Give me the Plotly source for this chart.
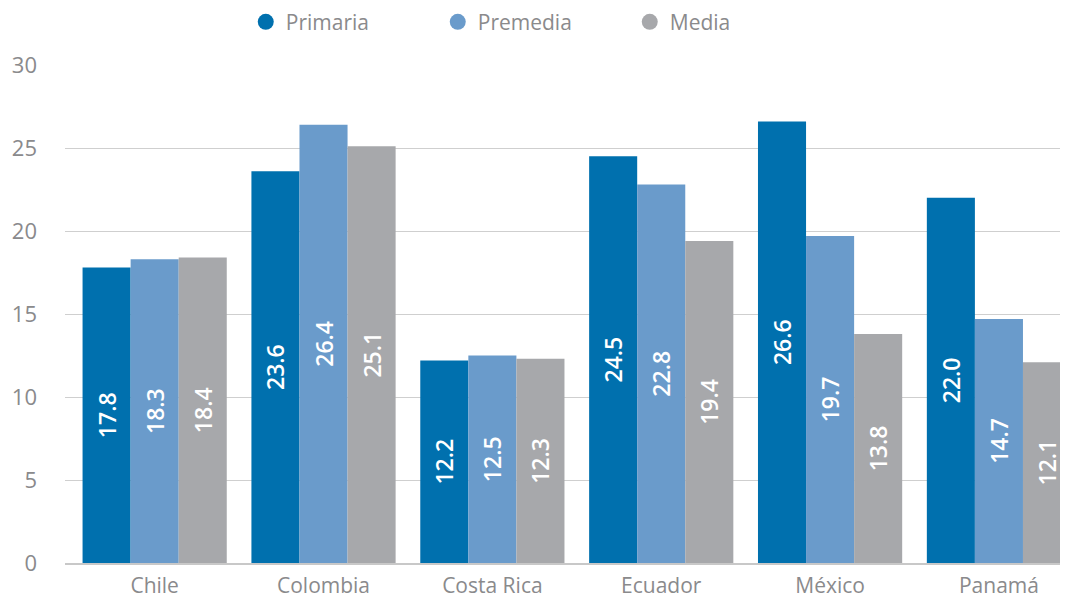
import plotly.graph_objects as go

categories = ["Chile", "Colombia", "Costa Rica", "Ecuador", "México", "Panamá"]
primaria = [17.8, 23.6, 12.2, 24.5, 26.6, 22.0]
premedia = [18.3, 26.4, 12.5, 22.8, 19.7, 14.7]
media = [18.4, 25.1, 12.3, 19.4, 13.8, 12.1]
series_names = ["Primaria", "Premedia", "Media"]
colors = ["#0070AE", "#6A9BCB", "#A7A8AB"]
y_ticks = [0, 5, 10, 15, 20, 25, 30]

FONT = "Open Sans"
GRAY = "#8a8a8c"

fig = go.Figure()
for name, vals, col in zip(series_names, [primaria, premedia, media], colors):
    fig.add_trace(go.Bar(
        x=categories, y=vals, name=name, marker=dict(color=col, line=dict(width=0)),
        text=[f"{v:.1f}" for v in vals], textposition="inside", insidetextanchor="middle",
        textangle=-90, textfont=dict(color="white", size=23, family=FONT, weight=600),
        showlegend=False,
    ))
    fig.add_trace(go.Scatter(
        x=[None], y=[None], mode="markers", name=name,
        marker=dict(symbol="circle", size=16, color=col), showlegend=True,
    ))

fig.update_layout(
    width=1060, height=590,
    margin=dict(l=57, r=0, t=57, b=35, autoexpand=False),
    plot_bgcolor="white", paper_bgcolor="white",
    barmode="group", bargap=0.146, bargroupgap=0,
    font=dict(family=FONT, color=GRAY, size=21),
    uniformtext=dict(minsize=20, mode="show"),
    legend=dict(orientation="h", x=0.496, xanchor="center", xref="container",
                y=1.086, yanchor="middle", yref="paper",
                font=dict(size=21, color=GRAY), entrywidth=147, itemwidth=30),
    xaxis=dict(range=[-0.531, 5.409], showline=True, linecolor="#c8c8c8", linewidth=1.5,
               ticks="", tickfont=dict(size=21, color=GRAY), automargin=False,
               ticklabelstandoff=3),
    yaxis=dict(range=[0, 30], tickvals=y_ticks, showgrid=True, gridcolor="#cfcfcf",
               gridwidth=1.2, zeroline=False, ticks="", tickfont=dict(size=22, color=GRAY),
               ticklabelstandoff=27, automargin=False),
)
fig.write_html("out.html")
